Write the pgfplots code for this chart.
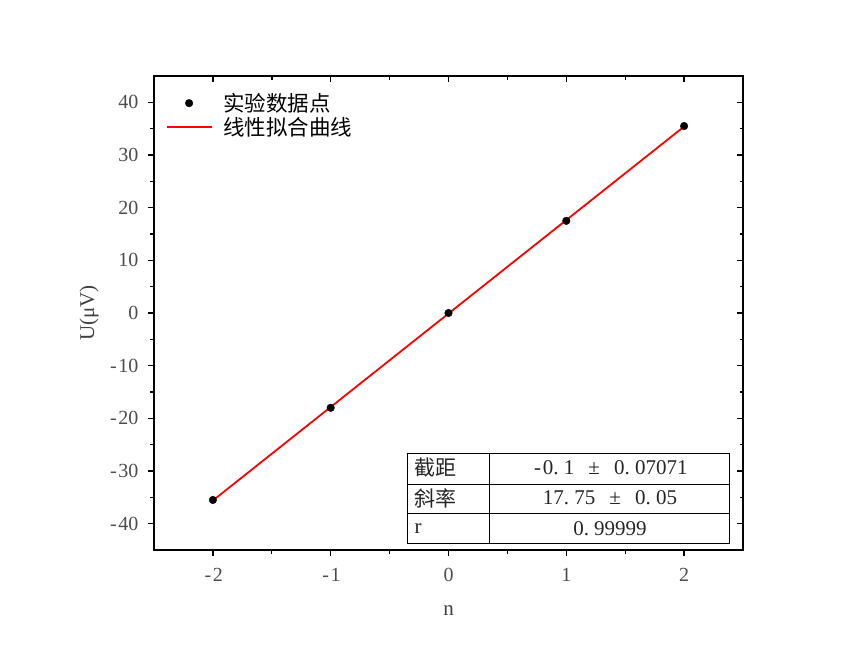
\documentclass[border=0pt]{standalone}
\usepackage{fontspec}
\setmainfont{Liberation Serif}
\newfontfamily\cjk{Noto Sans CJK SC}
\usepackage{pgfplots}
\pgfplotsset{compat=1.18}
\pgfplotsset{
    dotleg/.style={legend image code/.code={\fill[black] (22pt,4pt) circle (3.8pt);}},
    lineleg/.style={legend image code/.code={\draw[red, line width=1.8pt] (0pt,4pt) -- (45pt,4pt);}},
}
% SimSun-like half-width minus and dot
\newcommand{\mn}{\makebox[0.5em][c]{-}}
\newcommand{\dt}{\makebox[0.5em][l]{.}}

\begin{document}
\begin{tikzpicture}[x=1pt,y=1pt]
\useasboundingbox (-154,-112) rectangle (711,550);
\begin{axis}[
    at={(0,0)}, anchor=south west,
    scale only axis, width=589pt, height=474pt,
    xmin=-2.5, xmax=2.5, ymin=-45, ymax=45,
    xtick={-2,-1,0,1,2}, ytick={-40,-30,...,40},
    xticklabels={\mn2,\mn1,0,1,2},
    yticklabels={\mn40,\mn30,\mn20,\mn10,0,10,20,30,40},
    minor x tick num=1, minor y tick num=1,
    tick align=outside, xtick pos=bottom, ytick pos=left,
    major tick length=6pt, minor tick length=3.5pt,
    axis line style={line width=1.4pt},
    every tick/.style={black, line width=1.4pt},
    tick label style={font=\fontsize{20}{20}\selectfont, text=black!70},
    xticklabel style={yshift=-9pt},
    yticklabel style={xshift=-6pt},
    xlabel={n}, ylabel={U(μV)},
    label style={font=\fontsize{21}{21}\selectfont, text=black!75},
    xlabel style={yshift=-17pt},
    ylabel style={yshift=3pt},
    legend cell align=left,
    legend style={draw=none, fill=none, inner sep=0pt,
        at={(axis description cs:0.0204,0.96)}, anchor=north west,
        font=\cjk\fontsize{21.5}{21.5}\selectfont, row sep=0pt, column sep=10pt,
        nodes={inner sep=0pt, text height=16pt, text depth=8pt}},
]
\addplot[only marks, mark=*, mark size=3.8pt, black, dotleg]
  coordinates {(-2,-35.5) (-1,-18.0) (0,0.0) (1,17.5) (2,35.5)};
\addlegendentry{实验数据点}
\addplot[red, line width=1.8pt, mark=none, lineleg]
  coordinates {(-2,-35.6) (2,35.4)};
\addlegendentry{线性拟合曲线}
\end{axis}
\begin{axis}[
    at={(0,0)}, anchor=south west,
    scale only axis, width=589pt, height=474pt,
    xmin=-2.5, xmax=2.5, ymin=-45, ymax=45,
    xtick={-2,-1,0,1,2}, ytick={-40,-30,...,40},
    minor x tick num=1, minor y tick num=1,
    tick align=inside, xtick pos=right, ytick pos=right,
    major tick length=6pt, minor tick length=3.5pt,
    xticklabels={}, yticklabels={},
    axis line style={line width=1.4pt},
    every tick/.style={black, line width=1.4pt},
]
\end{axis}
% fit result table
\begin{scope}[line width=0.7pt, black]
\draw (253,7) rectangle (575,97);
\draw (335,7) -- (335,97);
\draw (253,37) -- (575,37);
\draw (253,66) -- (575,66);
\end{scope}
\begin{scope}[font=\fontsize{21}{21}\selectfont, text=black!85]
\node[anchor=west] at (257,82) {\cjk 截距};
\node[anchor=west] at (257,52) {\cjk 斜率};
\node[anchor=west] at (257,21) {r};
\node at (456,82) {\mn0\dt1\hspace{14pt}±\hspace{14pt}0\dt07071};
\node at (456,52) {17\dt75\hspace{14pt}±\hspace{14pt}0\dt05};
\node at (456,21) {0\dt99999};
\end{scope}
\end{tikzpicture}
\end{document}
